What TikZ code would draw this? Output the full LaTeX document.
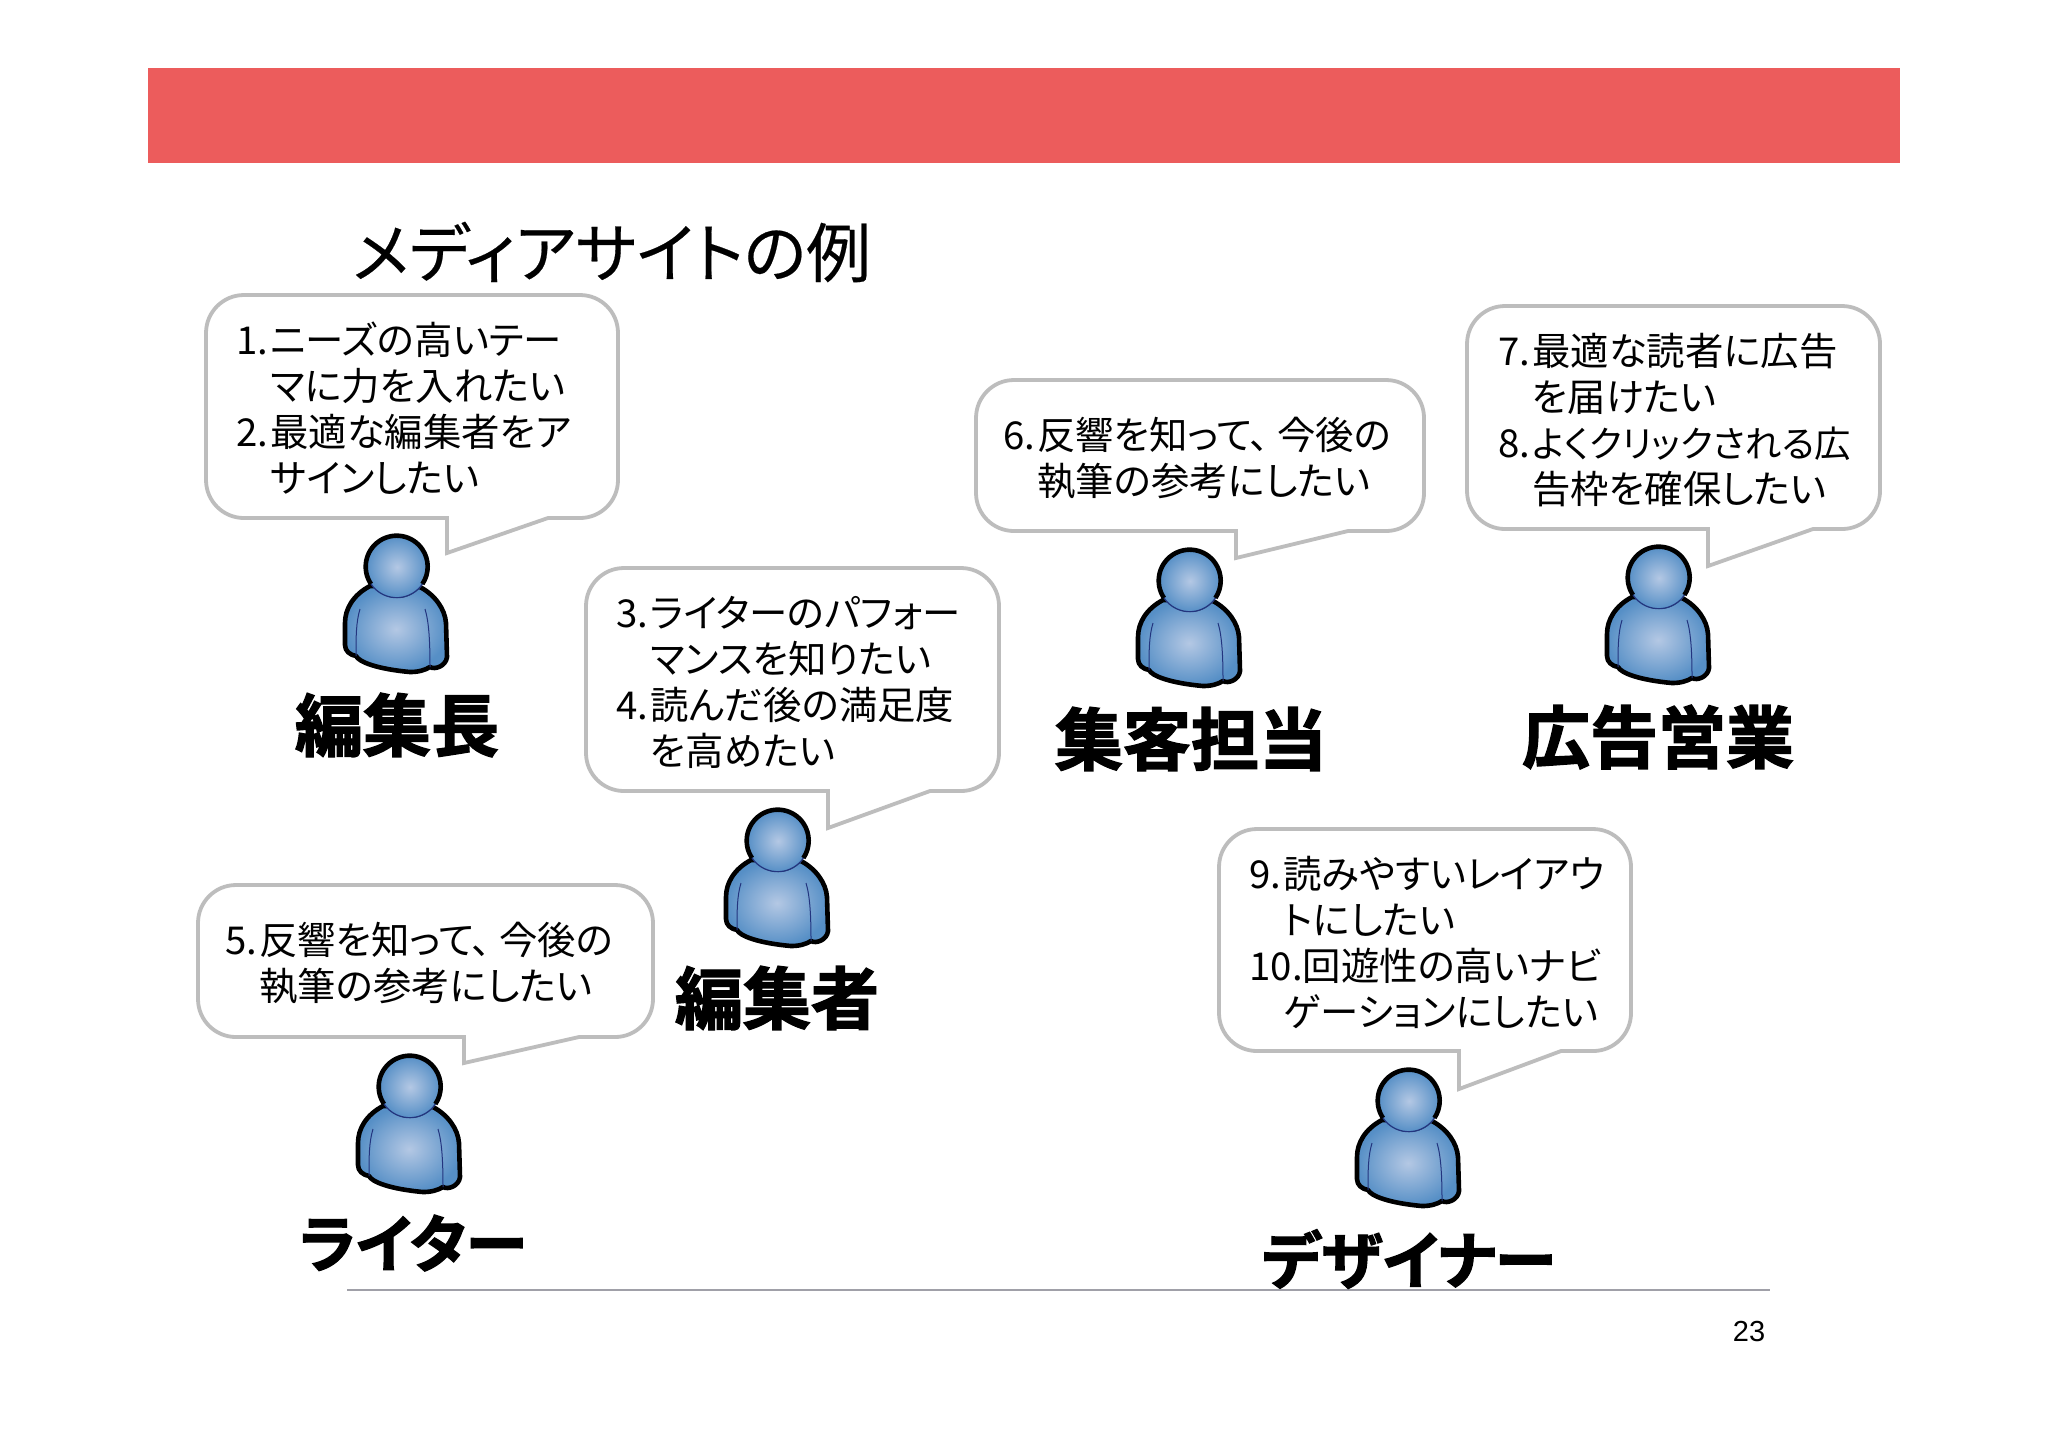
\documentclass[tikz,border=0pt]{standalone}
\usepackage{fontspec}
\newfontfamily\jp[RawFeature=+palt]{Noto Sans CJK JP}
\newfontfamily\jptitle[RawFeature=+palt,FakeBold=0.3]{Noto Sans CJK JP}
\newfontfamily\jpb[RawFeature=+palt,FakeBold=2.0]{Noto Sans CJK JP Bold}
\newfontfamily\lsans{Liberation Sans}
\definecolor{banner}{HTML}{EC5C5C}
\definecolor{bubbleline}{HTML}{BDBDBD}
\definecolor{footline}{HTML}{A0A0A8}
\definecolor{bodyouter}{HTML}{568FC6}
\definecolor{bodyinner}{HTML}{B4C8E4}
\definecolor{seam}{HTML}{23357F}
\tikzset{
  x=0.5pt,y=-0.5pt,
  bubbleshape/.style={draw=bubbleline,line width=1.9pt,fill=white,line join=miter},
  bubbletext/.style={anchor=west,align=left,inner sep=0pt,text=black,font=\jp\fontsize{19.2}{23}\selectfont},
  rolelabel/.style={inner sep=0pt,text=black,font=\jpb\fontsize{34}{36}\selectfont},
  rolelabelkana/.style={inner sep=0pt,text=black,font=\jpb\fontsize{31.2}{36}\selectfont},
  personpic/.pic={
    \draw[black,line width=2.3pt,line join=round,inner color=bodyinner,outer color=bodyouter]
      (-27,19) .. controls (-44,28) and (-52,42) .. (-52,56)
      -- (-52,78) .. controls (-52,84) and (-47,88) .. (-41,89)
      .. controls (-38,95) and (-20,102) .. (13,105)
      .. controls (22,105) and (28,103) .. (33,100)
      .. controls (38,103) and (49,99) .. (50,90)
      -- (49,56) .. controls (48,42) and (38,28) .. (23,20) -- cycle;
    \draw[seam,line width=0.5pt] (-37,42) .. controls (-41,55) and (-41,70) .. (-41,89);
    \draw[seam,line width=0.5pt] (28,42) .. controls (32,55) and (33,75) .. (33,100);
    \fill[inner color=bodyinner,outer color=bodyouter] (0,0) circle[radius=31];
    \draw[black,line width=2.3pt] (-26,17) arc[start angle=146,end angle=394,radius=31];
    \draw[seam,line width=0.6pt] (-26,17) arc[start angle=146,end angle=34,radius=31];
  }
}
\newcommand{\speechbub}[7]{%
  \draw[bubbleshape] (#1,{#2+38}) arc[start angle=180,end angle=270,radius=38]
    -- ({#3-38},#2) arc[start angle=270,end angle=360,radius=38]
    -- (#3,{#4-38}) arc[start angle=0,end angle=90,radius=38]
    -- (#7,#4) -- (#5,#6) -- (#5,#4)
    -- ({#1+38},#4) arc[start angle=90,end angle=180,radius=38] -- cycle;}
\newcommand{\numitem}[1]{\makebox[17pt][l]{#1}}
\newcommand{\hangitem}{\hspace*{17pt}}
\begin{document}
\begin{tikzpicture}
\useasboundingbox (0,0) rectangle (2048,1448);
\fill[white] (0,0) rectangle (2048,1448);
\fill[banner] (148,68) rectangle (1900,163);
\node[anchor=west,inner sep=0pt,font=\jptitle\fontsize{32.4}{34}\selectfont] (title) at (352,252) {メディアサイトの例};

\draw[footline,line width=0.8pt] (347,1290) -- (1770,1290);
\node[inner sep=0pt,font=\lsans\fontsize{14.5}{16}\selectfont] (pageno) at (1749,1331) {23};

\speechbub{206}{295}{618}{518}{447}{553}{548}
\speechbub{586}{568}{999}{791}{828}{828}{930}
\speechbub{198}{885}{653}{1037}{464}{1063}{579}
\speechbub{976}{380}{1424}{531}{1236}{558}{1348}
\speechbub{1467}{306}{1880}{529}{1708}{566}{1813}
\speechbub{1219}{829}{1631}{1051}{1459}{1089}{1561}

\node[bubbletext] (t1) at (236,408) {\numitem{1.}ニーズの高いテー\\\hangitem マに力を入れたい\\\numitem{2.}最適な編集者をア\\\hangitem サインしたい};
\node[bubbletext] (t2) at (616,682) {\numitem{3.}ライターのパフォー\\\hangitem マンスを知りたい\\\numitem{4.}読んだ後の満足度\\\hangitem を高めたい};
\node[bubbletext] (t3) at (225,963) {\numitem{5.}反響を知って、\hspace{4pt}今後の\\\hangitem 執筆の参考にしたい};
\node[bubbletext] (t4) at (1003,458) {\numitem{6.}反響を知って、\hspace{4pt}今後の\\\hangitem 執筆の参考にしたい};
\node[bubbletext] (t5) at (1498,420) {\numitem{7.}最適な読者に広告\\\hangitem を届けたい\\\numitem{8.}{\fontsize{18.2}{23}\selectfont よくクリックされる広}\\\hangitem 告枠を確保したい};
\node[bubbletext] (t6) at (1249,942) {\numitem{9.}読みやすいレイアウ\\\hangitem トにしたい\\10.回遊性の高いナビ\\\hangitem ゲーションにしたい};

\pic at (397,567) {personpic};
\pic at (778,841) {personpic};
\pic at (410,1087) {personpic};
\pic at (1190,581) {personpic};
\pic at (1659,578) {personpic};
\pic at (1409,1101) {personpic};

\node[rolelabel] (r1) at (397,725) {編集長};
\node[rolelabel] (r2) at (777,998) {編集者};
\node[rolelabelkana] (r3) at (413,1243) {ライター};
\node[rolelabel] (r4) at (1191,739) {集客担当};
\node[rolelabel] (r5) at (1658,737) {広告営業};
\node[rolelabelkana] (r6) at (1409,1259) {デザイナー};
\end{tikzpicture}
\end{document}
